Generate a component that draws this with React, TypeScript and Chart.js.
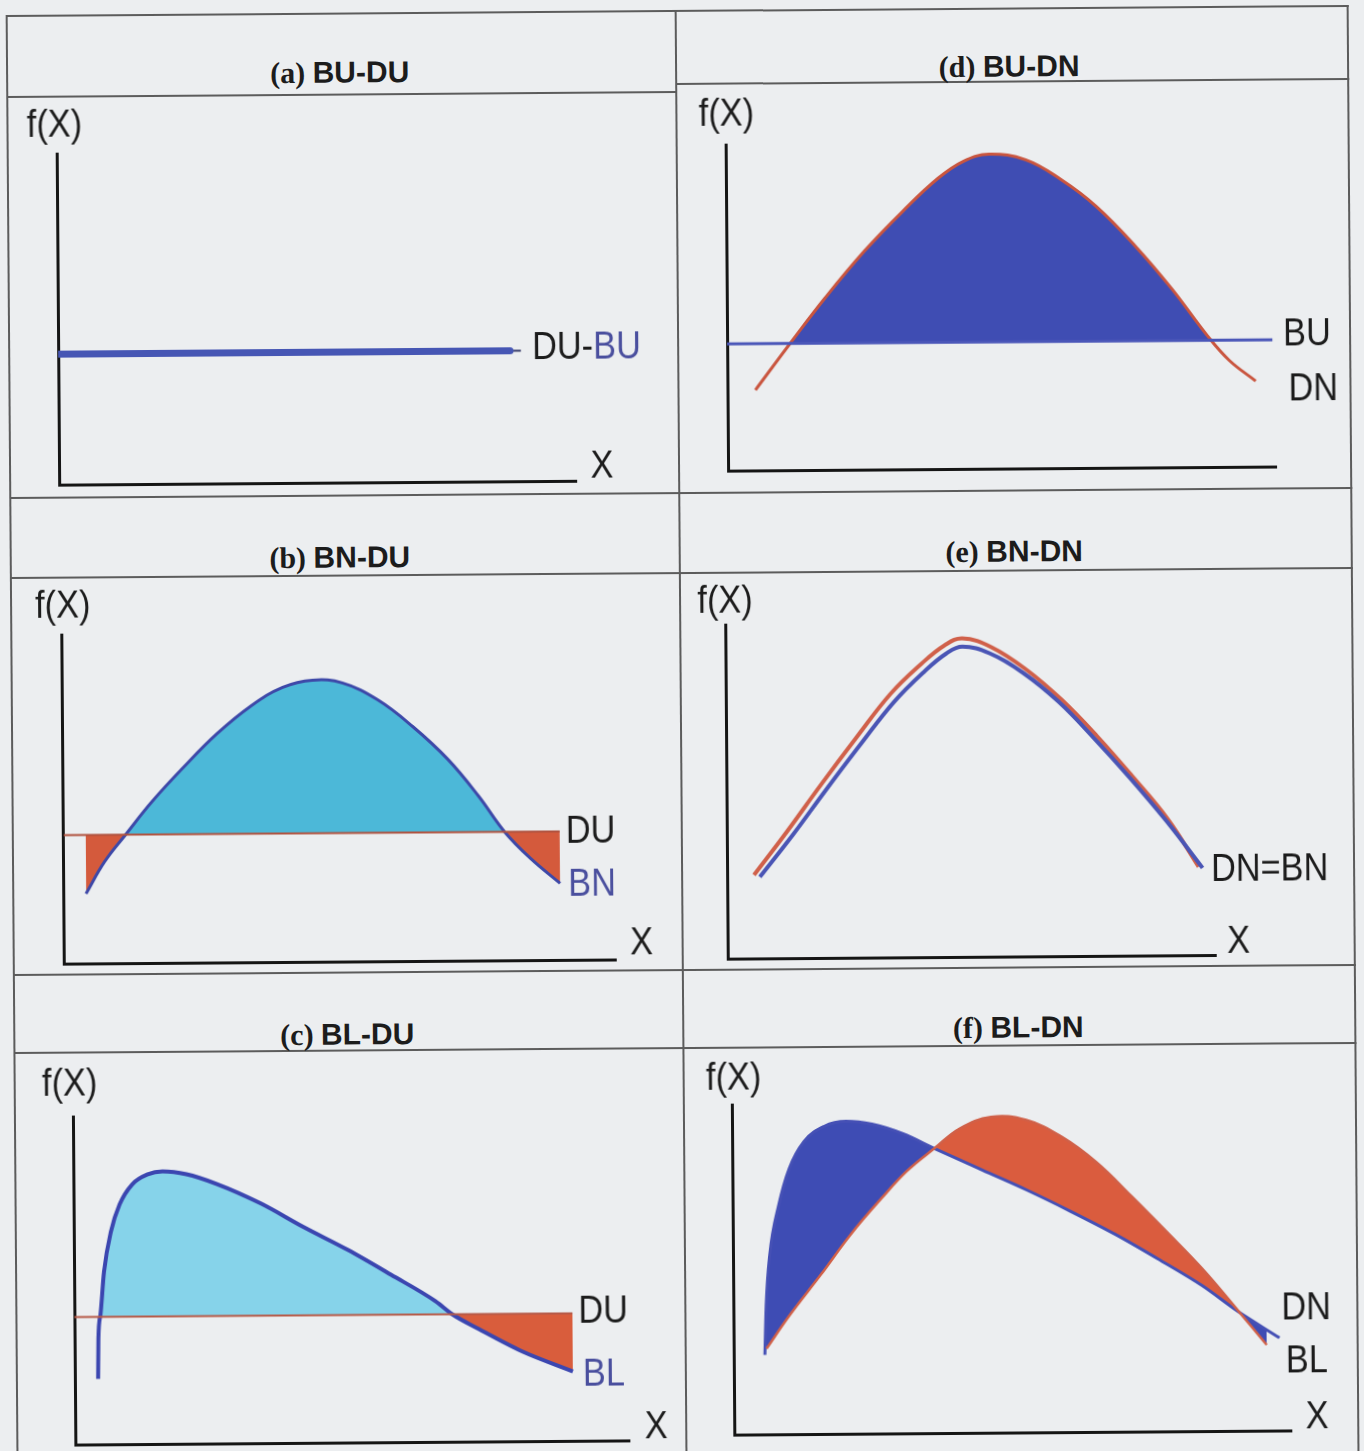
import { useEffect, useRef } from 'react';
import { Chart, registerables } from 'chart.js';

Chart.register(...registerables);

// Every panel uses X from 0 to 10 along the horizontal axis and f(X) from 0 to 10 up the vertical axis.

// (a) BU-DU: both densities are flat
const aBuX = [0, 8.74];
const aBuY = [3.95, 3.95];
const aDuX = [0, 8.95];
const aDuY = [3.95, 3.95];

// (d) BU-DN
const dBuX = [0, 9.95];
const dBuY = [3.9, 3.9];
const dDnX = [0.51, 1.15, 1.79, 2.52, 3.23, 3.87, 4.34, 4.8, 5.47, 6.11, 6.75, 7.46, 8.12, 8.76, 9.16, 9.64];
const dDnY = [2.48, 3.9, 5.28, 6.72, 7.94, 8.93, 9.45, 9.66, 9.48, 8.87, 8.04, 6.81, 5.49, 4.05, 3.28, 2.64];

// (b) BN-DU
const bDuX = [0, 8.99];
const bDuY = [3.92, 3.92];
const bBnX = [0.4, 0.74, 1.14, 1.61, 2.17, 2.79, 3.42, 3.99, 4.53, 5.07, 5.71, 6.34, 6.97, 7.52, 7.99, 8.46, 8.99];
const bBnY = [2.13, 3.1, 3.95, 4.92, 5.93, 6.96, 7.81, 8.36, 8.57, 8.48, 7.96, 7.14, 6.14, 5.02, 3.92, 3.1, 2.34];

// (e) BN-DN
const eDnX = [0.55, 1.23, 1.94, 2.66, 3.37, 4.01, 4.48, 4.85, 5.44, 6.16, 6.87, 7.59, 8.3, 9.02, 9.65];
const eDnY = [2.51, 3.8, 5.21, 6.59, 7.9, 8.8, 9.34, 9.55, 9.28, 8.59, 7.69, 6.59, 5.39, 4.1, 2.66];
const eBnX = [0.67, 1.35, 2.04, 2.74, 3.44, 4.07, 4.52, 4.85, 5.4, 6.09, 6.81, 7.53, 8.26, 9.0, 9.73];
const eBnY = [2.45, 3.7, 5.05, 6.38, 7.66, 8.57, 9.1, 9.3, 9.1, 8.5, 7.63, 6.53, 5.33, 4.03, 2.62];

// (c) BL-DU
const cDuX = [0, 8.99];
const cDuY = [3.9, 3.9];
const cBlX = [0.42, 0.43, 0.47, 0.54, 0.67, 0.83, 1.06, 1.34, 1.61, 2.04, 2.58, 3.38, 4.15, 4.95, 5.72, 6.52, 6.82, 7.29, 8.09, 8.99];
const cBlY = [2.01, 3.23, 3.96, 5.27, 6.49, 7.32, 7.93, 8.23, 8.32, 8.23, 7.93, 7.32, 6.59, 5.88, 5.12, 4.3, 3.9, 3.45, 2.74, 2.13];

// (f) BL-DN
const fDnX = [0.59, 1.02, 1.58, 2.12, 2.68, 3.14, 3.63, 4.09, 4.65, 5.28, 5.91, 6.54, 7.16, 7.79, 8.42, 8.98, 9.57];
const fDnY = [2.61, 3.64, 4.85, 6.06, 7.15, 7.97, 8.64, 9.24, 9.58, 9.48, 8.97, 8.18, 7.15, 6.06, 4.94, 3.82, 2.61];
const fBlX = [0.56, 0.59, 0.66, 0.83, 1.02, 1.29, 1.65, 2.05, 2.51, 3.07, 3.63, 4.49, 5.28, 6.07, 6.86, 7.63, 8.42, 9.05, 9.8];
const fBlY = [2.42, 3.94, 5.45, 6.97, 8.06, 8.88, 9.33, 9.48, 9.39, 9.09, 8.64, 7.97, 7.36, 6.7, 6.0, 5.24, 4.42, 3.64, 2.82];

const titles = ['(a) BU-DU', '(d) BU-DN', '(b) BN-DU', '(e) BN-DN', '(c) BL-DU', '(f) BL-DN'];

// ---- styling ----
const AXIS = '#151515';
const INK = '#1c1c1c';
const BLUE_TEXT = '#4a4f9e';
const RULE = '#5c5c5c';
const BG = '#eceef0';

const pts = (xs: number[], ys: number[]) => xs.map((x, i) => ({ x, y: ys[i] }));

type Part = { text: string; color: string };
type Label = { parts: Part[]; dx: number; dy: number; align: 'left' | 'center' };

const lab = (dx: number, dy: number, align: 'left' | 'center', ...parts: Part[]): Label => ({ parts, dx, dy, align });
const ink = (text: string): Part => ({ text, color: INK });
const blue = (text: string): Part => ({ text, color: BLUE_TEXT });

// smooth curve; steep rises keep the monotone spline so they do not loop back
const line = (
  data: { x: number; y: number }[],
  color: string,
  width: number,
  fill: any = false,
  opts: { cap?: string; monotone?: boolean } = {},
) => ({
  data,
  borderColor: color,
  borderWidth: width,
  backgroundColor: 'rgba(0,0,0,0)',
  pointRadius: 0,
  fill,
  borderCapStyle: opts.cap ?? 'butt',
  borderJoinStyle: 'round',
  cubicInterpolationMode: opts.monotone ? 'monotone' : 'default',
  tension: 0.4,
});

type Panel = {
  title: string;
  titleX: number;
  titleBase: number;
  box: { left: number; top: number; width: number; height: number };
  padding: { left: number; top: number; right: number; bottom: number };
  datasets: any[];
  labels: Label[];
};

const panels: Panel[] = [
  {
    title: titles[0],
    titleX: 344.6,
    titleBase: 80.4,
    box: { left: 14, top: 94, width: 665, height: 396 },
    padding: { left: 47, top: 55.5, right: 101, bottom: 10 },
    datasets: [
      line(pts(aBuX, aBuY), '#4656b4', 7, false, { cap: 'round' }),
      line(pts(aDuX, aDuY), '#3b3f6c', 2),
    ],
    labels: [
      lab(-2, -28, 'center', ink('f(X)')),
      lab(543, 317, 'center', ink('X')),
      lab(474, 198, 'left', ink('DU-'), blue('BU')),
    ],
  },
  {
    title: titles[1],
    titleX: 1014,
    titleBase: 79.4,
    box: { left: 683, top: 86, width: 668, height: 404 },
    padding: { left: 47, top: 59.4, right: 73, bottom: 18.6 },
    datasets: [
      line(pts(dBuX, dBuY), '#4a56b8', 3),
      line(pts(dDnX, dDnY), '#c9553f', 3, { target: 0, above: '#3f4db3', below: 'rgba(0,0,0,0)' }),
    ],
    labels: [
      lab(1, -30, 'center', ink('f(X)')),
      lab(556, 193.6, 'left', ink('BU')),
      lab(561, 248.6, 'left', ink('DN')),
    ],
  },
  {
    title: titles[2],
    titleX: 341,
    titleBase: 565.4,
    box: { left: 14, top: 575, width: 665, height: 393 },
    padding: { left: 48.7, top: 55.4, right: 64.3, bottom: 8.6 },
    datasets: [
      line(pts(bDuX, bDuY), '#b0523f', 2),
      line(pts(bBnX, bBnY), '#3d48a8', 3, { target: 0, above: '#4cb8d8', below: '#d45a3c' }),
    ],
    labels: [
      lab(1, -28, 'center', ink('f(X)')),
      lab(577.3, 313, 'center', ink('X')),
      lab(502.3, 200.6, 'left', ink('DU')),
      lab(504.3, 253.6, 'left', blue('BN')),
    ],
  },
  {
    title: titles[3],
    titleX: 1015.5,
    titleBase: 564.4,
    box: { left: 683, top: 575, width: 668, height: 393 },
    padding: { left: 43, top: 50.4, right: 136.3, bottom: 8.6 },
    datasets: [
      line(pts(eBnX, eBnY), '#4a55b5', 4),
      line(pts(eDnX, eDnY), '#d0604a', 4),
    ],
    labels: [
      lab(0, -23, 'center', ink('f(X)')),
      lab(511, 321, 'center', ink('X')),
      lab(484, 249, 'left', ink('DN=BN')),
    ],
  },
  {
    title: titles[4],
    titleX: 345,
    titleBase: 1042.4,
    box: { left: 14, top: 1050, width: 665, height: 410 },
    padding: { left: 56, top: 62.4, right: 55, bottom: 19.6 },
    datasets: [
      line(pts(cDuX, cDuY), '#b65a48', 2),
      line(pts(cBlX, cBlY), '#3b46b0', 4, { target: 0, above: '#86d3ea', below: '#d95d3c' }, { monotone: true }),
    ],
    labels: [
      lab(-3, -32, 'center', ink('f(X)')),
      lab(581, 315, 'center', ink('X')),
      lab(504, 199, 'left', ink('DU')),
      lab(508, 262, 'left', blue('BL')),
    ],
  },
  {
    title: titles[5],
    titleX: 1016,
    titleBase: 1040.4,
    box: { left: 683, top: 1050, width: 668, height: 410 },
    padding: { left: 46, top: 55.4, right: 65, bottom: 24.6 },
    datasets: [
      line(pts(fDnX, fDnY), '#d06048', 2.5),
      line(pts(fBlX, fBlY), '#4550b5', 3, { target: 0, above: '#3e4cb4', below: '#da5c3e' }, { monotone: true }),
    ],
    labels: [
      lab(2, -26, 'center', ink('f(X)')),
      lab(583, 317, 'center', ink('X')),
      lab(548, 208, 'left', ink('DN')),
      lab(552, 261, 'left', ink('BL')),
    ],
  },
];

const LABEL_FONT = '39px "Liberation Sans", Arial, sans-serif';
const LABEL_SQUEEZE = 0.88;

// Draws the axis names and curve names next to the plot area.
const labelPlugin = (labels: Label[]) => ({
  id: 'panelLabels',
  afterDraw(chart: any) {
    const { ctx, chartArea } = chart;
    for (const l of labels) {
      ctx.save();
      ctx.font = LABEL_FONT;
      ctx.textBaseline = 'middle';
      ctx.textAlign = 'left';
      ctx.translate(chartArea.left + l.dx, chartArea.top + l.dy);
      ctx.scale(LABEL_SQUEEZE, 1);
      const total = l.parts.reduce((s, p) => s + ctx.measureText(p.text).width, 0);
      let x = l.align === 'center' ? -total / 2 : 0;
      for (const p of l.parts) {
        ctx.fillStyle = p.color;
        ctx.fillText(p.text, x, 0);
        x += ctx.measureText(p.text).width;
      }
      ctx.restore();
    }
  },
});

function PanelChart({ panel }: { panel: Panel }) {
  const ref = useRef<HTMLCanvasElement | null>(null);

  useEffect(() => {
    if (!ref.current) return;
    const hiddenAxis = {
      type: 'linear' as const,
      min: 0,
      max: 10,
      ticks: { display: false },
      grid: { display: false, drawTicks: false },
      border: { display: true, color: AXIS, width: 3 },
    };
    const chart = new Chart(ref.current, {
      type: 'line',
      data: { datasets: panel.datasets },
      options: {
        animation: false,
        responsive: false,
        maintainAspectRatio: false,
        events: [],
        layout: { padding: panel.padding },
        plugins: {
          legend: { display: false },
          tooltip: { enabled: false },
          title: { display: false },
        },
        scales: { x: hiddenAxis, y: hiddenAxis },
      },
      plugins: [labelPlugin(panel.labels)],
    } as any);
    return () => chart.destroy();
  }, [panel]);

  const { left, top, width, height } = panel.box;
  return (
    <canvas
      ref={ref}
      width={width}
      height={height}
      style={{ position: 'absolute', left, top, width, height }}
    />
  );
}

function Title({ panel }: { panel: Panel }) {
  const [tag, ...rest] = panel.title.split(' ');
  return (
    <div
      style={{
        position: 'absolute',
        left: panel.titleX - 150,
        width: 300,
        top: panel.titleBase - 25.4,
        height: 30,
        lineHeight: '30px',
        fontSize: 30,
        fontWeight: 'bold',
        textAlign: 'center',
        whiteSpace: 'nowrap',
        color: INK,
      }}
    >
      <span style={{ fontFamily: '"Liberation Serif", "Times New Roman", serif' }}>{tag} </span>
      <span style={{ fontFamily: '"Liberation Sans", Arial, sans-serif' }}>{rest.join(' ')}</span>
    </div>
  );
}

const hLine = (left: number, top: number, width: number) => (
  <div style={{ position: 'absolute', left, top: top - 1, width, height: 2, background: RULE }} />
);
const vLine = (left: number, top: number, height: number) => (
  <div style={{ position: 'absolute', left: left - 1, top, width: 2, height, background: RULE }} />
);

export default function App() {
  return (
    <div
      style={{
        position: 'absolute',
        left: 0,
        top: 0,
        width: 1364,
        height: 1451,
        overflow: 'hidden',
        background: BG,
      }}
    >
      <div
        style={{
          position: 'absolute',
          left: 0,
          top: 0,
          width: 1364,
          height: 1451,
          transform: 'rotate(-0.43deg)',
          transformOrigin: '682px 725px',
        }}
      >
        {/* table rules */}
        {hLine(12, 11, 1342)}
        {vLine(12, 10, 1470)}
        {vLine(1353, 10, 1470)}
        {vLine(681, 10, 1470)}
        {hLine(12, 492.5, 1342)}
        {hLine(12, 970, 1342)}
        {hLine(12, 91.5, 669)}
        {hLine(681, 84, 673)}
        {hLine(12, 573, 1342)}
        {hLine(12, 1048, 1342)}

        {panels.map((p) => (
          <Title key={'t' + p.title} panel={p} />
        ))}
        {panels.map((p) => (
          <PanelChart key={'c' + p.title} panel={p} />
        ))}
      </div>
    </div>
  );
}
